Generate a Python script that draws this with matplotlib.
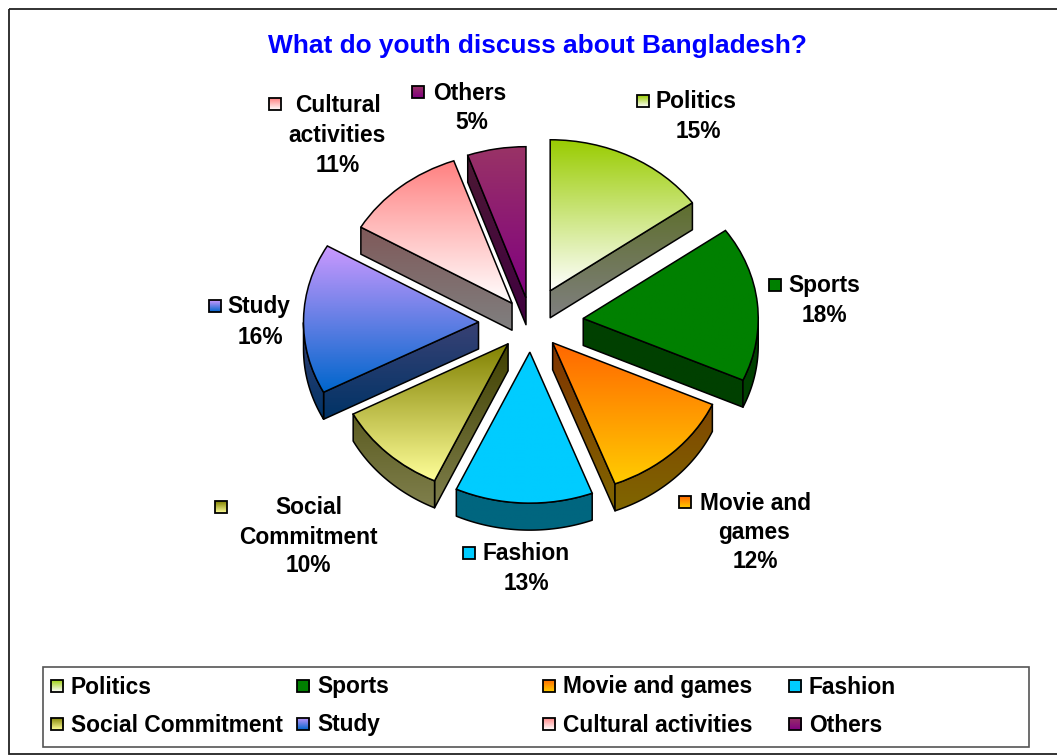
import numpy as np
import matplotlib
matplotlib.use("Agg")
import matplotlib.pyplot as plt
from matplotlib.colors import LinearSegmentedColormap, to_rgb
from matplotlib.patches import Polygon, Rectangle

plt.rcParams['font.family'] = ['Liberation Sans', 'DejaVu Sans']

title = "What do youth discuss about Bangladesh?"
categories = ["Politics", "Sports", "Movie and games", "Fashion",
              "Social Commitment", "Study", "Cultural activities", "Others"]
# percentages as printed on the chart
percent_values = [15, 18, 12, 13, 10, 16, 11, 5]
# slice sizes as measured on the picture (the 3-D rendering does not draw them
# exactly in proportion to the printed percentages)
slice_shares = [15.1, 16.6, 12.5, 12.7, 10.4, 16.1, 11.2, 5.4]
top_colors = ["#99cc00", "#008000", "#ff6600", "#00ccff", "#808000", "#cc99ff", "#ff8080", "#993366"]
bottom_colors = ["#ffffff", "#008000", "#ffcc00", "#00ccff", "#ffff99", "#0066cc", "#ffffff", "#800080"]
explode_fractions = [0.24, 0.30, 0.18, 0.193, 0.19, 0.30, 0.17, 0.17]

W, H = 1057, 755
CX, CY, RX, RY = 531, 323, 175, 151
DEPTH_PX = 27
LW = 1.1

fig = plt.figure(figsize=(W / 100, H / 100), dpi=100, facecolor="white")
page = fig.add_axes([0, 0, 1, 1])
page.set_xlim(0, W)
page.set_ylim(H, 0)
page.axis("off")

span = 1.6
pie_ax = fig.add_axes([(CX - span * RX) / W, 1 - (CY + span * RY) / H,
                       2 * span * RX / W, 2 * span * RY / H], zorder=1)
pie_ax.patch.set_alpha(0)


def gradient(ax, patch, c_top, c_bot, y_top, y_bot, x0, x1, zorder, scale=1.0):
    c0 = np.array(to_rgb(c_top)) * scale
    c1 = np.array(to_rgb(c_bot)) * scale
    cmap = LinearSegmentedColormap.from_list("g", [c0, c1])
    im = ax.imshow(np.linspace(0, 1, 256).reshape(-1, 1), cmap=cmap, aspect="auto",
                   extent=(x0, x1, y_bot, y_top), origin="upper", zorder=zorder,
                   interpolation="bilinear")
    im.set_clip_path(patch)


wedges, _ = pie_ax.pie(slice_shares, startangle=90, counterclock=False,
                       explode=explode_fractions, radius=1.0,
                       wedgeprops=dict(edgecolor="black", linewidth=LW))
depth = DEPTH_PX / RY
shift = np.array([0, -depth])

for i, w in enumerate(wedges):
    poly = w.get_path().to_polygons(closed_only=False)[0]
    xs, ys = poly[:, 0], poly[:, 1]
    base = 2 + i * 0.01
    w.set_facecolor("none")
    w.set_zorder(base + 0.005)
    gradient(pie_ax, w, top_colors[i], bottom_colors[i], ys.max(), ys.min(),
             xs.min(), xs.max(), base + 0.004)

    apex = np.array(w.center)
    t1, t2 = np.deg2rad(w.theta1), np.deg2rad(w.theta2)
    walls = []
    # only the walls that face the viewer
    if np.cos(t1) > 0.01:
        e = apex + [np.cos(t1), np.sin(t1)]
        walls.append(np.vstack([apex, e, e + shift, apex + shift]))
    if np.cos(t2) < -0.01:
        e = apex + [np.cos(t2), np.sin(t2)]
        walls.append(np.vstack([apex, e, e + shift, apex + shift]))
    arc_t = np.linspace(t1, t2, 180)
    arc_t = arc_t[np.sin(arc_t) < 0]
    if arc_t.size > 1:
        arc = apex + np.column_stack([np.cos(arc_t), np.sin(arc_t)])
        walls.append(np.vstack([arc, (arc + shift)[::-1]]))
    for k, wall in enumerate(walls):
        z = 1 + i * 0.01 + k * 0.002
        p = Polygon(wall, closed=True, facecolor="none", edgecolor="black",
                    linewidth=LW, zorder=z, joinstyle="round")
        pie_ax.add_patch(p)
        gradient(pie_ax, p, top_colors[i], bottom_colors[i], ys.max(), ys.min() - depth,
                 wall[:, 0].min(), wall[:, 0].max(), z - 0.0005, scale=0.5)

pie_ax.set_xlim(-span, span)
pie_ax.set_ylim(-span, span)
pie_ax.set_aspect("auto")
pie_ax.axis("off")

# outer frame (runs off the right edge)
page.add_patch(Rectangle((8.5, 8.5), W + 20, 745.5, facecolor="none", edgecolor="#222222", linewidth=1.3))
page.text(537.5, 46.5, title, color="#0000ff", fontsize=18.9, fontweight="bold", ha="center", va="center")


def swatch(x, y, i, size=12):
    r = Rectangle((x, y), size, size, facecolor="none", edgecolor="black", linewidth=1.3, zorder=5)
    page.add_patch(r)
    cmap = LinearSegmentedColormap.from_list("s", [top_colors[i], bottom_colors[i]])
    im = page.imshow(np.linspace(0, 1, 32).reshape(-1, 1), cmap=cmap, aspect="auto",
                     extent=(x, x + size, y + size, y), zorder=4)
    im.set_clip_path(r)


TXT = dict(fontsize=16.4, fontweight="bold", color="black", va="center", zorder=6)

pct = [f"{v}%" for v in percent_values]
labels = [
    (637, 95, [(696, 101.5, "Politics"), (698, 131.5, pct[0])]),
    (769, 279, [(824, 285.5, "Sports"), (824, 315, pct[1])]),
    (679, 496, [(755, 503.5, "Movie and"), (754, 532.5, "games"), (755, 562, pct[2])]),
    (463, 547, [(526, 553.5, "Fashion"), (526, 583, pct[3])]),
    (215, 501, [(309, 507.5, "Social"), (308, 537, "Commitment"), (308, 566, pct[4])]),
    (209, 300, [(259, 307, "Study"), (260, 337, pct[5])]),
    (269, 98, [(338, 105.5, "Cultural"), (337, 135, "activities"), (338, 165, pct[6])]),
    (412, 86, [(470, 93.5, "Others"), (472, 122.5, pct[7])]),
]
for i, (sx, sy, lines) in enumerate(labels):
    swatch(sx, sy, i)
    for tx, ty, s in lines:
        page.text(tx, ty, s, ha="center", **TXT)

# legend box
page.add_patch(Rectangle((43, 667), 986, 80, facecolor="white", edgecolor="#555555", linewidth=1.2, zorder=3))
leg_x = [50, 296, 542, 788]
leg_y = [686, 724]
for i, name in enumerate(categories):
    col, row = i % 4, i // 4
    swatch(leg_x[col] + 0.5, leg_y[row] - 6.5, i, size=12.5)
    page.text(leg_x[col] + 21, leg_y[row] + 1, name, ha="left", **TXT)

page.set_xlim(0, W)
page.set_ylim(H, 0)
fig.savefig("out.png", dpi=100, facecolor="white")
